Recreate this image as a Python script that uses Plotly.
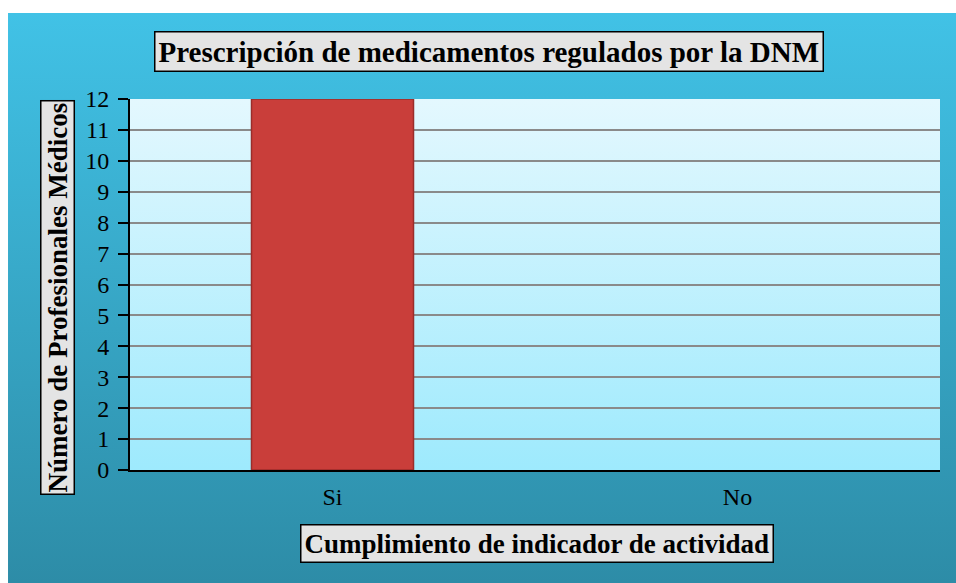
import base64

import plotly.graph_objects as go

categorias = ['Si', 'No']
profesionales = [12, 0]
y_ticks = list(range(0, 13))


def svg_gradient(top, bottom):
  svg = ('<svg xmlns="http://www.w3.org/2000/svg" width="100" height="100" preserveAspectRatio="none">'
         '<defs><linearGradient id="g" x1="0" y1="0" x2="0" y2="1">'
         '<stop offset="0" stop-color="%s"/><stop offset="1" stop-color="%s"/>'
         '</linearGradient></defs><rect width="100" height="100" fill="url(#g)"/></svg>') % (top, bottom)
  return 'data:image/svg+xml;base64,' + base64.b64encode(svg.encode()).decode()


fig = go.Figure()
fig.add_trace(go.Bar(
  x=categorias, y=profesionales, width=0.4,
  marker=dict(color='#c93e3a', line=dict(color='#9a2d2b', width=[1.5, 0])),
))

# fondo del panel exterior y del area de trazado
fig.add_layout_image(dict(
  source=svg_gradient('#41c2e6', '#2d8ca7'), xref='paper', yref='paper',
  x=-0.1506, y=1.2318, sizex=1.1704, sizey=1.5364,
  sizing='stretch', xanchor='left', yanchor='top', layer='below',
))
fig.add_layout_image(dict(
  source=svg_gradient('#e4f8fe', '#9eeafd'), xref='paper', yref='paper',
  x=0, y=1, sizex=1, sizey=1,
  sizing='stretch', xanchor='left', yanchor='top', layer='below',
))

box = dict(bgcolor='#e4e4e4', bordercolor='black', borderwidth=1.5, showarrow=False,
           xref='paper', yref='paper', xanchor='center', yanchor='middle')
fig.add_annotation(text='<b>Prescripción de medicamentos regulados por la DNM</b>',
                   x=0.4438, y=1.128, borderpad=3,
                   font=dict(family='Liberation Serif', size=29, color='black'), **box)
fig.add_annotation(text='<b>Número de Profesionales Médicos</b>', textangle=-90,
                   x=-0.0895, y=0.465, borderpad=1,
                   font=dict(family='Liberation Serif', size=27, color='black'), **box)
fig.add_annotation(text='<b>Cumplimiento de indicador de actividad</b>',
                   x=0.503, y=-0.197, borderpad=3,
                   font=dict(family='Liberation Serif', size=27, color='black'), **box)

fig.update_layout(
  width=956, height=583,
  margin=dict(l=130, r=16, t=99, b=113),
  paper_bgcolor='white', plot_bgcolor='rgba(0,0,0,0)',
  showlegend=False,
  font=dict(family='Liberation Serif', size=24, color='black'),
  xaxis=dict(showline=True, linecolor='black', linewidth=2, ticks='outside',
             tickcolor='rgba(0,0,0,0)', ticklen=4, showgrid=False),
  yaxis=dict(range=[0, 12], tickvals=y_ticks, showline=True, linecolor='black', linewidth=2,
             ticks='outside', ticklen=10, tickwidth=2, tickcolor='black', ticklabelstandoff=4,
             showgrid=True, gridcolor='#8a8a8a', gridwidth=2, zeroline=False),
)

fig.write_html('out.html', config={'displayModeBar': False},
               post_script="document.body.style.margin='0';")
